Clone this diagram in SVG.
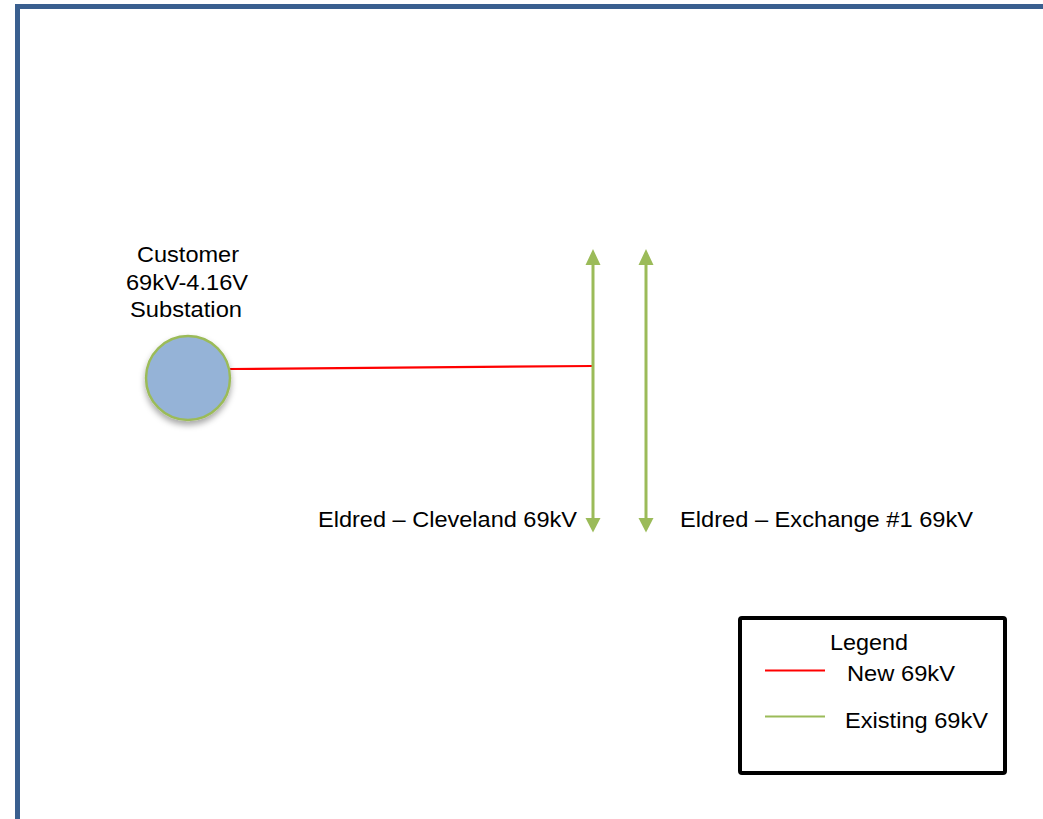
<svg xmlns="http://www.w3.org/2000/svg" width="1043" height="819" viewBox="0 0 1043 819">
<defs>
<style>
text{font-family:"Liberation Sans",Arial,sans-serif;font-size:21.5px;fill:#000}
.green{stroke:#9BBB59;stroke-width:3;fill:none}
.red{stroke:#FF0000;stroke-width:2.2;fill:none}
</style>
<filter id="sh" x="-30%" y="-30%" width="160%" height="170%">
<feDropShadow dx="0" dy="4" stdDeviation="3" flood-color="#000" flood-opacity="0.35"/>
</filter>
</defs>
<rect width="1043" height="819" fill="#fff"/>
<path d="M17.5,819 V6.5 H1043" fill="none" stroke="#3A5F8F" stroke-width="5"/>
<g id="connectors">
<line class="red" x1="230" y1="369" x2="593" y2="366"/>
<line class="green" x1="593" y1="262" x2="593" y2="520"/>
<polygon points="593,249 585.5,265 600.5,265" fill="#9BBB59"/>
<polygon points="593,532.5 585.5,518 600.5,518" fill="#9BBB59"/>
<line class="green" x1="646" y1="262" x2="646" y2="520"/>
<polygon points="646,249 638.5,265 653.5,265" fill="#9BBB59"/>
<polygon points="646,532.5 638.5,518 653.5,518" fill="#9BBB59"/>
</g>
<g id="substation">
<circle cx="188" cy="378" r="42" fill="#95B3D7" stroke="#9BBB59" stroke-width="2.5" filter="url(#sh)"/>
<text x="188" y="262" text-anchor="middle" textLength="102" lengthAdjust="spacingAndGlyphs">Customer</text>
<text x="187" y="290" text-anchor="middle" textLength="122" lengthAdjust="spacingAndGlyphs">69kV-4.16V</text>
<text x="186" y="317" text-anchor="middle" textLength="112" lengthAdjust="spacingAndGlyphs">Substation</text>
</g>
<g id="line-cleveland">
<text x="318" y="527" textLength="259" lengthAdjust="spacingAndGlyphs">Eldred – Cleveland 69kV</text>
</g>
<g id="line-exchange">
<text x="680" y="527" textLength="293" lengthAdjust="spacingAndGlyphs">Eldred – Exchange #1 69kV</text>
</g>
<g id="legend">
<rect x="740" y="618" width="265" height="155" rx="2" fill="#fff" stroke="#000" stroke-width="4"/>
<text x="830" y="650" textLength="78" lengthAdjust="spacingAndGlyphs">Legend</text>
<line class="red" x1="765" y1="670.5" x2="825" y2="670.5"/>
<text x="847" y="681" textLength="108" lengthAdjust="spacingAndGlyphs">New 69kV</text>
<line x1="765" y1="716.5" x2="825" y2="716.5" stroke="#9BBB59" stroke-width="2"/>
<text x="845" y="728" textLength="143" lengthAdjust="spacingAndGlyphs">Existing 69kV</text>
</g>
</svg>
